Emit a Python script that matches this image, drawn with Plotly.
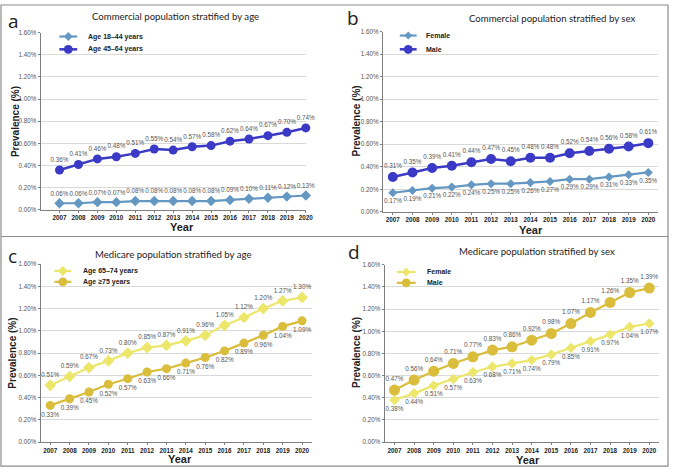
import plotly.graph_objects as go

years = list(range(2007, 2021))

a_age_18_44 = [0.06, 0.06, 0.07, 0.07, 0.08, 0.08, 0.08, 0.08, 0.08, 0.09, 0.10, 0.11, 0.12, 0.13]
a_age_45_64 = [0.36, 0.41, 0.46, 0.48, 0.51, 0.55, 0.54, 0.57, 0.58, 0.62, 0.64, 0.67, 0.70, 0.74]
b_female = [0.17, 0.19, 0.21, 0.22, 0.24, 0.25, 0.25, 0.26, 0.27, 0.29, 0.29, 0.31, 0.33, 0.35]
b_male = [0.31, 0.35, 0.39, 0.41, 0.44, 0.47, 0.45, 0.48, 0.48, 0.52, 0.54, 0.56, 0.58, 0.61]
c_age_65_74 = [0.51, 0.59, 0.67, 0.73, 0.80, 0.85, 0.87, 0.91, 0.96, 1.05, 1.12, 1.20, 1.27, 1.30]
c_age_75 = [0.33, 0.39, 0.45, 0.52, 0.57, 0.63, 0.66, 0.71, 0.76, 0.82, 0.89, 0.96, 1.04, 1.09]
d_female = [0.38, 0.44, 0.51, 0.57, 0.63, 0.68, 0.71, 0.74, 0.79, 0.85, 0.91, 0.97, 1.04, 1.07]
d_male = [0.47, 0.56, 0.64, 0.71, 0.77, 0.83, 0.86, 0.92, 0.98, 1.07, 1.17, 1.26, 1.35, 1.39]

y_ticks = [0, 0.2, 0.4, 0.6, 0.8, 1.0, 1.2, 1.4, 1.6]

titles = ["Commercial population stratified by age", "Commercial population stratified by sex",
          "Medicare population stratified by age", "Medicare population stratified by sex"]
letters = ["a", "b", "c", "d"]

W, H = 676, 473
STEEL = "#6497c2"
BLUE = "#3a3ac6"
LYEL = "#ece66a"
GOLD = "#d9bd3b"


def px(x):
    return x / W


def py(y):
    return 1 - y / H


fig = go.Figure()

# series spec: values, name, color, symbol, marker size, line width, panel, label position
series = [
    (a_age_18_44, "Age 18–44 years", STEEL, "diamond", 8, 2.2, 1, "top center"),
    (a_age_45_64, "Age 45–64 years", BLUE, "circle", 9, 2.5, 1, "top center"),
    (b_female, "Female", STEEL, "diamond", 7, 2.2, 2, "bottom center"),
    (b_male, "Male", BLUE, "circle", 10, 2.5, 2, "top center"),
    (c_age_65_74, "Age 65–74 years", LYEL, "diamond", 9, 2.2, 3, "top center"),
    (c_age_75, "Age ≥75 years", GOLD, "circle", 9, 2.2, 3, "bottom center"),
    (d_female, "Female", LYEL, "diamond", 8, 2.2, 4, "bottom center"),
    (d_male, "Male", GOLD, "circle", 11, 2.2, 4, "top center"),
]

for vals, name, color, symbol, msize, lw, axis, tpos in series:
    xa = "x" if axis == 1 else f"x{axis}"
    ya = "y" if axis == 1 else f"y{axis}"
    fig.add_trace(go.Scatter(
        x=years, y=vals, name=name, mode="lines+markers+text",
        line=dict(color=color, width=lw),
        marker=dict(color=color, symbol=symbol, size=msize),
        text=[f"{v:.2f}%" for v in vals], textposition=tpos,
        textfont=dict(size=6.3, color="#555555", family="Arial"),
        cliponaxis=False, xaxis=xa, yaxis=ya, showlegend=False,
    ))

# plot areas (pixel) : x0, x1, ytop, ybottom, xrange
areas = [
    (41, 309, 29, 209, [2006, 2020]),
    (387, 665, 28, 211, [2006.5, 2020.5]),
    (41, 315, 264, 444.7, [2006.5, 2020.5]),
    (388.7, 666, 264.7, 444.7, [2006.5, 2020.5]),
]

layout = dict(
    width=W, height=H, margin=dict(l=0, r=0, t=0, b=0),
    paper_bgcolor="white", plot_bgcolor="white",
    font=dict(family="Arial", color="#333333"),
)

for i, (x0, x1, yt, yb, xr) in enumerate(areas, start=1):
    sx = "" if i == 1 else str(i)
    layout[f"xaxis{sx}"] = dict(
        domain=[px(x0), px(x1)], range=xr, anchor=f"y{sx}",
        tickmode="array", tickvals=years, ticktext=[f"<b>{y}</b>" for y in years],
        tickfont=dict(size=6.3, color="#222222"), tickangle=0,
        showline=True, linecolor="#7f7f7f", linewidth=1,
        ticks="outside", ticklen=2, tickcolor="#7f7f7f",
        showgrid=False, zeroline=False, fixedrange=True,
    )
    layout[f"yaxis{sx}"] = dict(
        domain=[py(yb), py(yt)], range=[0, 1.6], anchor=f"x{sx}",
        tickmode="array", tickvals=y_ticks,
        ticktext=[f"{v:.2f}%" for v in y_ticks],
        tickfont=dict(size=6.3, color="#555555"),
        showline=True, linecolor="#7f7f7f", linewidth=1,
        ticks="outside", ticklen=2, tickcolor="#7f7f7f",
        showgrid=True, gridcolor="#d9d9d9", gridwidth=1, zeroline=False, fixedrange=True,
    )

fig.update_layout(**layout)

ann = []
shapes = []

title_pos = [(177, 13), (558, 15), (175, 254), (543, 251)]
for t, (tx, ty) in zip(titles, title_pos):
    ann.append(dict(text=t, x=px(tx), y=py(ty), xref="paper", yref="paper", showarrow=False,
                    font=dict(size=9.6, family="Lato", color="#222222"), xanchor="center", yanchor="middle"))
letter_pos = [(14, 17), (357, 14), (13, 256), (358, 252)]
for t, (tx, ty) in zip(letters, letter_pos):
    ann.append(dict(text=t, x=px(tx), y=py(ty), xref="paper", yref="paper", showarrow=False,
                    font=dict(size=19, family="Open Sans", color="#222222"), xanchor="center", yanchor="middle"))
ylab_pos = [(15, 119), (360, 119), (13, 354), (360, 354)]
for (tx, ty) in ylab_pos:
    ann.append(dict(text="<b>Prevalence (%)</b>", x=px(tx), y=py(ty), xref="paper", yref="paper", showarrow=False,
                    textangle=-90, font=dict(size=10, family="Arial", color="#222222"),
                    xanchor="center", yanchor="middle"))
xlab_pos = [(184, 226), (537, 229), (182, 462), (534, 463)]
for (tx, ty) in xlab_pos:
    ann.append(dict(text="<b>Year</b>", x=px(tx), y=py(ty), xref="paper", yref="paper", showarrow=False,
                    font=dict(size=11, family="Arial", color="#222222"),
                    xanchor="center", yanchor="middle"))

# manual legends: (line x0, line x1, text x, first row y, row gap)
legend_items = [
    (60, 78, 87, 33, 13, [series[0], series[1]]),
    (404, 421, 428, 32, 14, [series[2], series[3]]),
    (55, 72, 82, 271, 11, [series[4], series[5]]),
    (401, 420, 429, 272, 11, [series[6], series[7]]),
]
for lx0, lx1, tx, ry, gap, items in legend_items:
    for k, s in enumerate(items):
        _, name, color, symbol, msize, lw, _, _ = s
        yy = ry + k * gap
        shapes.append(dict(type="line", xref="paper", yref="paper",
                           x0=px(lx0), x1=px(lx1), y0=py(yy), y1=py(yy),
                           line=dict(color=color, width=lw)))
        cx = (lx0 + lx1) / 2
        r = min(msize, 9) / 2
        if symbol == "circle":
            shapes.append(dict(type="circle", xref="paper", yref="paper",
                               x0=px(cx - r), x1=px(cx + r), y0=py(yy + r), y1=py(yy - r),
                               fillcolor=color, line=dict(color=color, width=0)))
        else:
            r = r + 0.5
            path = (f"M {px(cx - r)},{py(yy)} L {px(cx)},{py(yy - r)} "
                    f"L {px(cx + r)},{py(yy)} L {px(cx)},{py(yy + r)} Z")
            shapes.append(dict(type="path", xref="paper", yref="paper", path=path,
                               fillcolor=color, line=dict(color=color, width=0)))
        ann.append(dict(text=f"<b>{name}</b>", x=px(tx), y=py(yy), xref="paper", yref="paper",
                        showarrow=False, xanchor="left", yanchor="middle",
                        font=dict(size=7, family="Arial", color="#222222")))

shapes.append(dict(type="rect", xref="paper", yref="paper", x0=px(1), x1=px(675), y0=py(469), y1=py(1),
                   line=dict(color="#8c8c8c", width=1.2)))
shapes.append(dict(type="line", xref="paper", yref="paper", x0=px(1), x1=px(675), y0=py(236), y1=py(236),
                   line=dict(color="#8c8c8c", width=1.2)))

fig.update_layout(annotations=ann, shapes=shapes)

fig.write_html("out.html", config={"displayModeBar": False, "staticPlot": True},
               post_script="document.body.style.margin='0';document.body.style.padding='0';")
